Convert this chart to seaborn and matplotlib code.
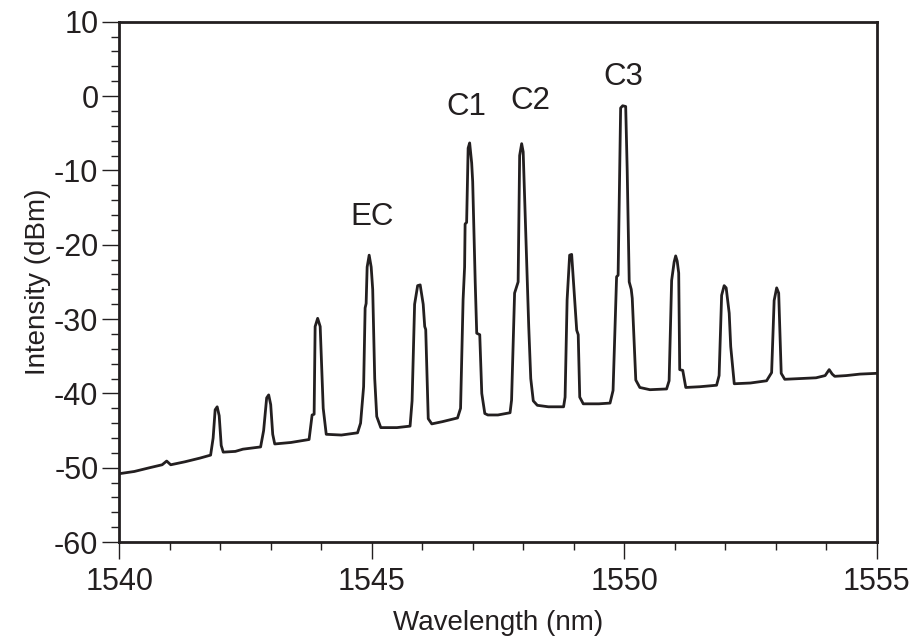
import matplotlib
matplotlib.use("Agg")
import matplotlib.pyplot as plt
import seaborn as sns
import pandas as pd
from matplotlib.ticker import MultipleLocator

# spectrum (nm, dBm)
wavelength = [
    1540.00, 1540.30, 1540.60, 1540.85, 1540.94, 1541.02, 1541.30, 1541.60, 1541.81,
    1541.86, 1541.90, 1541.94, 1541.98, 1542.02, 1542.06, 1542.30, 1542.45, 1542.80,
    1542.86, 1542.92, 1542.96, 1543.00, 1543.04, 1543.08, 1543.40, 1543.76, 1543.82,
    1543.86, 1543.88, 1543.93, 1543.98, 1544.04, 1544.10, 1544.40, 1544.72, 1544.78,
    1544.84, 1544.87, 1544.89, 1544.91, 1544.95, 1544.99, 1545.02, 1545.06, 1545.10,
    1545.18, 1545.50, 1545.76, 1545.80, 1545.85, 1545.91, 1545.96, 1546.02, 1546.05,
    1546.07, 1546.12, 1546.19, 1546.40, 1546.70, 1546.76, 1546.81, 1546.84, 1546.85,
    1546.88, 1546.91, 1546.94, 1546.98, 1547.00, 1547.05, 1547.08, 1547.14, 1547.18,
    1547.24, 1547.30, 1547.50, 1547.74, 1547.77, 1547.83, 1547.90, 1547.93, 1547.97,
    1548.00, 1548.03, 1548.09, 1548.11, 1548.15, 1548.20, 1548.28, 1548.50, 1548.80,
    1548.83, 1548.87, 1548.92, 1548.96, 1549.02, 1549.06, 1549.09, 1549.12, 1549.19,
    1549.50, 1549.72, 1549.78, 1549.85, 1549.88, 1549.93, 1549.97, 1550.03, 1550.06,
    1550.10, 1550.14, 1550.16, 1550.23, 1550.31, 1550.51, 1550.84, 1550.89, 1550.94,
    1550.99, 1551.02, 1551.05, 1551.08, 1551.10, 1551.16, 1551.22, 1551.50, 1551.83,
    1551.88, 1551.93, 1551.98, 1552.02, 1552.08, 1552.11, 1552.18, 1552.50, 1552.82,
    1552.92, 1552.97, 1553.02, 1553.06, 1553.11, 1553.18, 1553.50, 1553.80, 1553.98,
    1554.06, 1554.12, 1554.17, 1554.40, 1554.67, 1555.00,
]
intensity = [
    -50.8, -50.5, -50.0, -49.6, -49.1, -49.6, -49.2, -48.7, -48.3,
    -46.0, -42.2, -41.8, -43.0, -47.0, -47.9, -47.8, -47.5, -47.2,
    -45.0, -40.6, -40.2, -41.5, -45.5, -46.8, -46.6, -46.2, -42.9,
    -42.8, -31.0, -29.9, -31.0, -42.0, -45.5, -45.6, -45.3, -44.0,
    -39.1, -28.5, -27.9, -23.0, -21.4, -23.0, -26.0, -38.0, -43.1,
    -44.6, -44.6, -44.4, -41.0, -28.0, -25.5, -25.4, -28.0, -31.0,
    -31.4, -43.4, -44.1, -43.8, -43.3, -42.0, -27.4, -23.0, -17.2,
    -17.0, -7.0, -6.3, -9.0, -11.5, -25.0, -31.9, -32.1, -40.0,
    -42.7, -42.9, -42.9, -42.6, -40.9, -26.5, -25.0, -8.0, -6.4,
    -7.5, -14.0, -27.0, -31.0, -38.0, -41.0, -41.6, -41.8, -41.8,
    -40.5, -27.4, -21.4, -21.3, -27.4, -31.5, -32.1, -40.5, -41.4,
    -41.4, -41.3, -39.6, -24.3, -24.1, -1.6, -1.3, -1.4, -10.0,
    -25.0, -26.0, -27.2, -38.2, -39.2, -39.5, -39.4, -38.3, -24.8,
    -22.3, -21.5, -22.2, -23.8, -36.8, -36.9, -39.2, -39.1, -38.9,
    -37.6, -26.8, -25.5, -25.8, -29.2, -33.7, -38.7, -38.6, -38.3,
    -37.2, -27.5, -25.8, -26.5, -37.3, -38.1, -38.0, -37.9, -37.6,
    -36.8, -37.4, -37.7, -37.6, -37.4, -37.3,
]

# peak labels
label_text = ["EC", "C1", "C2", "C3"]
label_x = [1545.0, 1546.88, 1548.15, 1549.99]
label_y = [-16.2, -1.5, -0.7, 2.6]

ink = "#231f20"

sns.set_style("ticks")
plt.rcParams["font.family"] = ["Liberation Sans", "DejaVu Sans"]
plt.rcParams["axes.unicode_minus"] = False

df = pd.DataFrame({"Wavelength": wavelength, "Intensity": intensity})

fig = plt.figure(figsize=(9.17, 6.4), dpi=100)
ax = fig.add_axes([0.130, 0.153, 0.826, 0.813])
sns.lineplot(data=df, x="Wavelength", y="Intensity", ax=ax, color=ink,
             linewidth=2.0, estimator=None, sort=False)

for t, x, y in zip(label_text, label_x, label_y):
    ax.text(x, y, t, ha="center", va="center", fontsize=22.5, color=ink)

ax.set_xlim(1540, 1555)
ax.set_ylim(-60, 10)
ax.xaxis.set_major_locator(MultipleLocator(5))
ax.xaxis.set_minor_locator(MultipleLocator(1))
ax.yaxis.set_major_locator(MultipleLocator(10))
ax.yaxis.set_minor_locator(MultipleLocator(2))
ax.tick_params(which="major", length=12, width=1.0, color=ink,
               labelsize=22, labelcolor=ink)
ax.tick_params(axis="y", which="major", pad=3)
ax.tick_params(axis="x", which="major", pad=6)
ax.tick_params(which="minor", length=6, width=1.0, color=ink)
for s in ax.spines.values():
    s.set_linewidth(2.0)
    s.set_color(ink)

ax.set_xlabel("Wavelength (nm)", fontsize=20, color=ink, labelpad=9)
ax.set_ylabel("Intensity (dBm)", fontsize=20, color=ink, labelpad=2)

plt.savefig("out.png", dpi=100)
plt.close()
